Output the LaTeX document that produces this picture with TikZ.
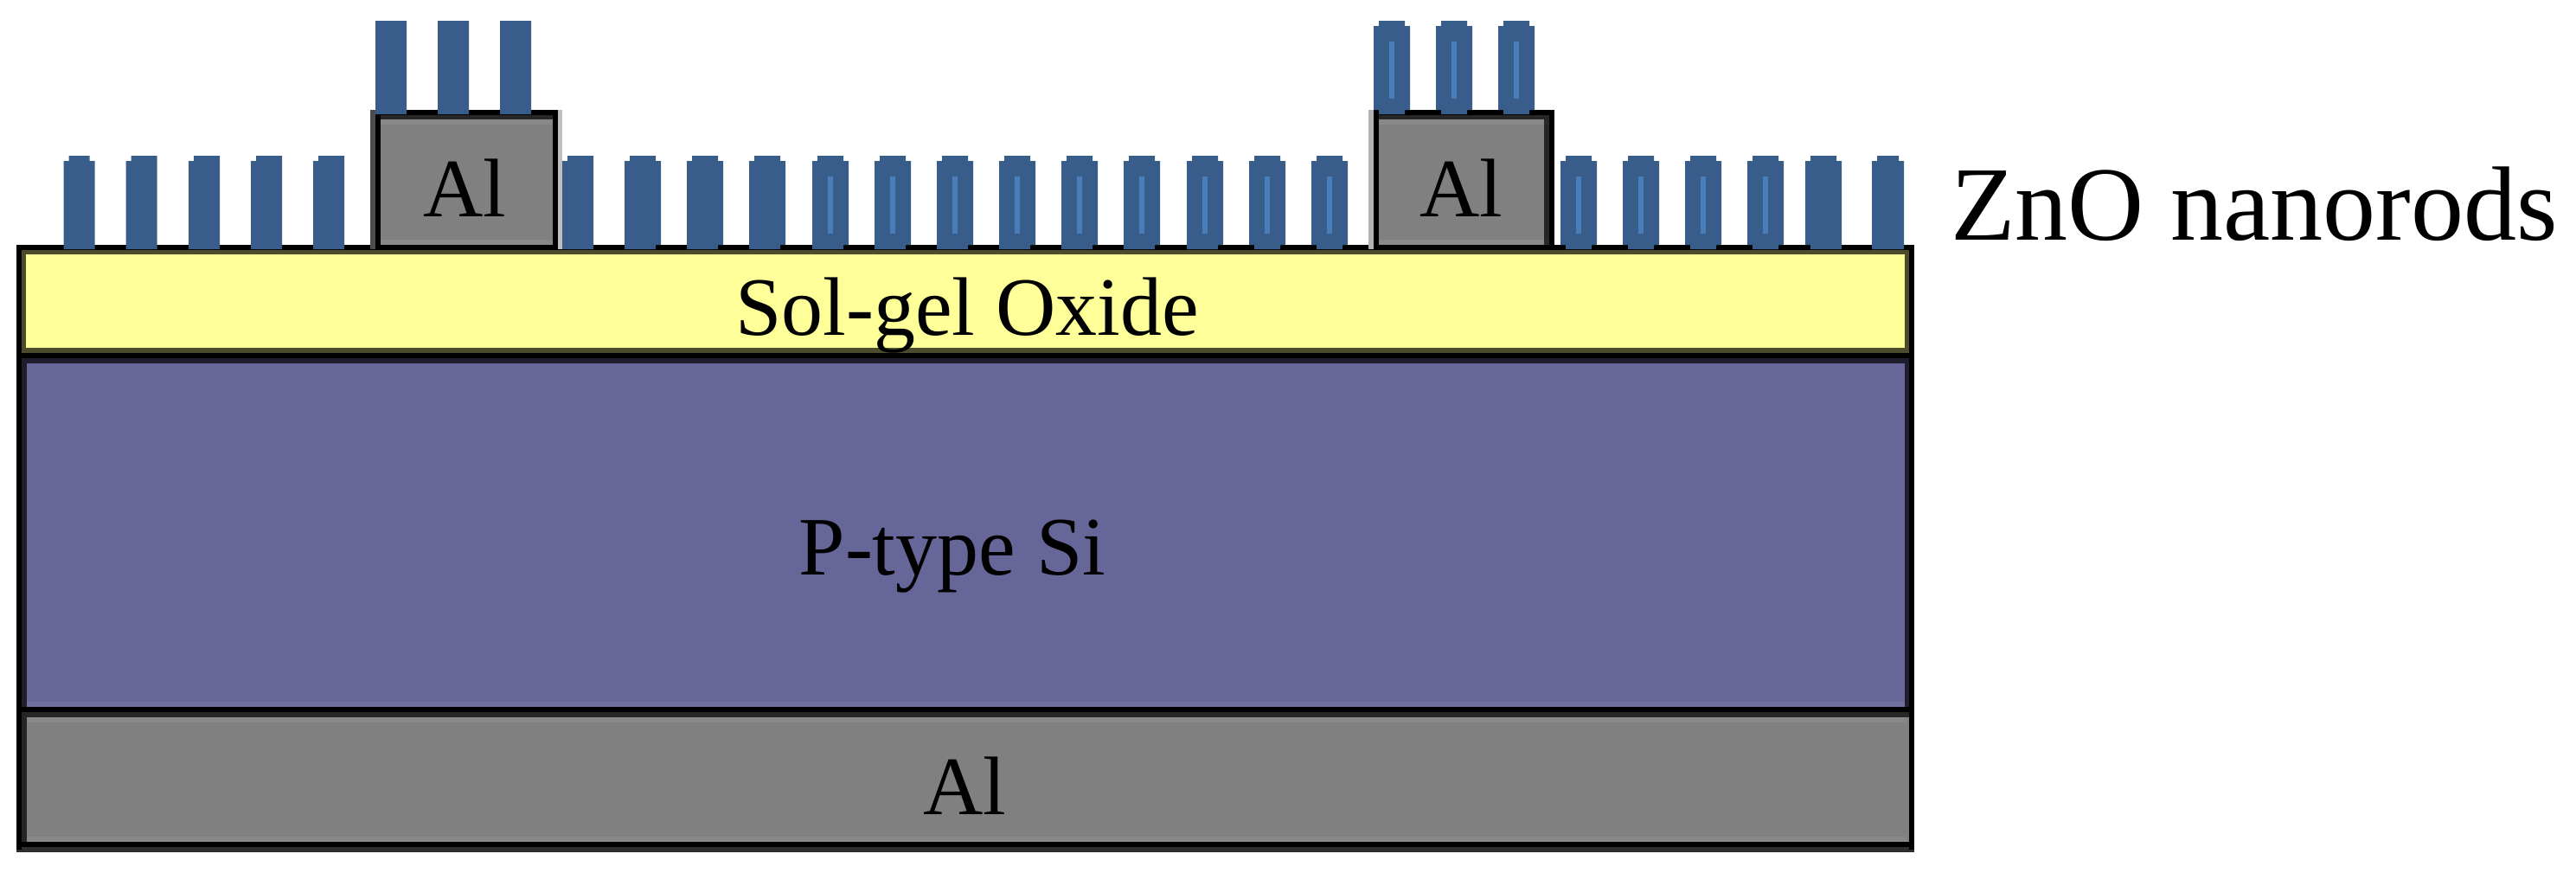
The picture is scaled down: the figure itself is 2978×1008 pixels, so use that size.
\documentclass[tikz,border=0pt]{standalone}
\usepackage{fontspec}
\setmainfont{Liberation Serif}
\definecolor{oxide}{HTML}{FFFF99}
\definecolor{silicon}{HTML}{666699}
\definecolor{metal}{HTML}{808080}
\definecolor{rodblue}{HTML}{385D8A}
\definecolor{rodglow}{HTML}{4A7EBB}
\tikzset{
	band/.style={black,opacity=0.7},
	sheen/.style={white,opacity=0.07},
	wire/.style={line width=0.06cm,black},
	labeltext/.style={anchor=base,inner sep=0pt,font=\fontsize{27.3}{32}\selectfont},
}
% x, top, width, then the steps: top left, top right, foot left, foot right
\newcommand{\nanorod}[7]{
	\fill[rodblue] (#1+#4,#2) -- (#1+#3-#5,#2) -- (#1+#3-#5,#2+6) -- (#1+#3,#2+6)
		-- (#1+#3,#2+103) -- (#1+#3-#7,#2+103) -- (#1+#3-#7,#2+108) -- (#1+#6,#2+108)
		-- (#1+#6,#2+103) -- (#1,#2+103) -- (#1,#2+6) -- (#1+#4,#2+6) -- cycle;
}
\begin{document}
\begin{tikzpicture}[x=0.01cm,y=-0.01cm]
	\path[use as bounding box] (0,0) rectangle (2978,1008);
	% layers
	\fill[oxide] (22,286) rectangle (2210,411);
	\fill[silicon] (22,411) rectangle (2210,820);
	\fill[metal] (22,820) rectangle (2210,979);
	\fill[sheen] (31,829) rectangle (2204,835);
	\fill[sheen] (31,967) rectangle (2204,973);
	\fill[sheen] (31,811) rectangle (2204,817);
	\fill[band] (25,288) rectangle (2207,294);
	\fill[band] (25,402) rectangle (2207,408);
	\fill[band] (25,294) rectangle (30,402);
	\fill[band] (2202,294) rectangle (2207,402);
	\fill[band] (25,414) rectangle (2207,420);
	\fill[band] (25,420) rectangle (31,817);
	\fill[band] (2202,420) rectangle (2207,817);
	\fill[band] (25,823) rectangle (2207,829);
	\fill[band] (25,829) rectangle (31,973);
	\fill[black!82] (19,979) rectangle (2213,985);
	\draw[wire] (19,285.5) -- (2213,285.5);
	\draw[wire] (22,285.5) -- (22,982);
	\draw[wire] (2210,285.5) -- (2210,982);
	\draw[wire] (19,411) -- (2213,411);
	\draw[wire] (19,820) -- (2213,820);
	\draw[wire] (19,976) -- (2213,976);
	% contacts
	\foreach \x/\y in {437/642,1591/1794} {
		\fill[metal] (\x,129.5) rectangle (\y,285.5);
		\fill[sheen] (\x+3,138) rectangle (\y-3,144);
		\fill[sheen] (\x+3,277) rectangle (\y-3,283);
		\fill[band] (\x+3,132) rectangle (\y-3,138);
		\draw[wire] (\x,285.5) -- (\x,129.5) -- (\y,129.5) -- (\y,285.5);
		\draw[wire] (\x,285.5) -- (\y,285.5);
	}
	\fill[black!70] (428,127) rectangle (434,288);
	\fill[black!25] (645,127) rectangle (650,288);
	\fill[black!30] (1582,127) rectangle (1588,288);
	\fill[band] (1785,138) rectangle (1791,283);
	% nanorods
	\nanorod{73.5}{180}{36}{6}{6}{0}{0}
	\foreach \x in {145.5,218,290,362,650} {\nanorod{\x}{180}{36}{6}{0}{0}{0}}
	\foreach \x in {722,794,866,939,1011,1083,1155,1227,1299,1372} {\nanorod{\x}{180}{42}{6}{6}{0}{6}}
	\foreach \x in {1444,1516,1804,1876,1948,2020} {\nanorod{\x}{180}{42}{6}{6}{6}{6}}
	\nanorod{2087}{180}{42}{6}{6}{6}{0}
	\nanorod{2164}{180}{37}{6}{6}{0}{0}
	\foreach \x in {434,506,578} {\nanorod{\x}{24}{36}{0}{0}{0}{0}}
	\foreach \x in {1588,1660,1732} {\nanorod{\x}{24}{42}{6}{6}{6}{6}}
	\foreach \x in {939,1011,1083,1155,1227,1299,1372,1444,1516,1804,1876,1948,2020} \fill[rodglow] (\x+18,204) rectangle (\x+24,270);
	\foreach \x in {1588,1660,1732} \fill[rodglow] (\x+18,48) rectangle (\x+24,114);
	% labels
	\node[labeltext] (leftcontact) at (537,250) {Al};
	\node[labeltext] (rightcontact) at (1689,250) {Al};
	\node[labeltext] (oxidelabel) at (1118,387) {Sol-gel Oxide};
	\node[labeltext] (siliconlabel) at (1101,664) {P-type Si};
	\node[labeltext] (backcontact) at (1115,941) {Al};
	\node[labeltext,font=\fontsize{34.7}{40}\selectfont] (rodlabel) at (2606,277) {ZnO nanorods};
\end{tikzpicture}
\end{document}
